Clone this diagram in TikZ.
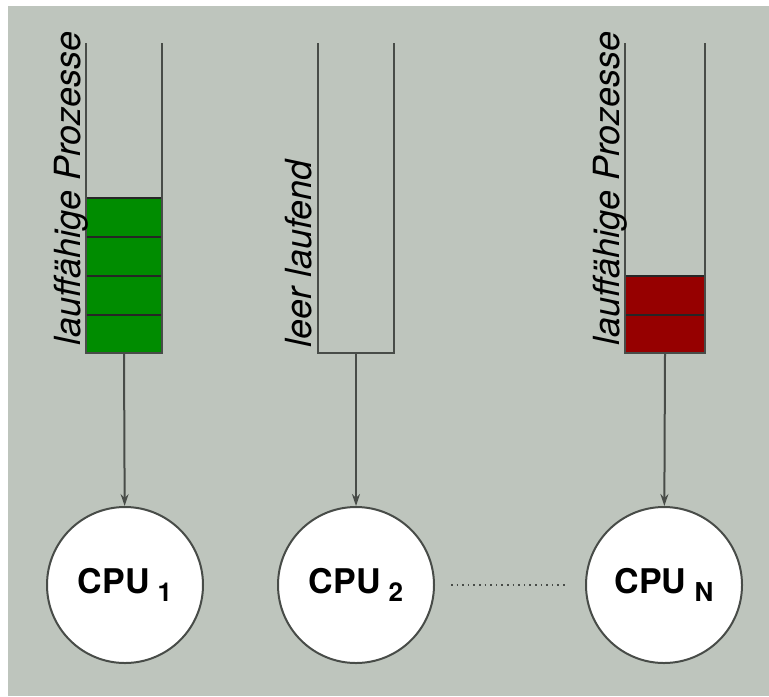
\documentclass[tikz,border=0pt]{standalone}
\usepackage{fontspec}
\setmainfont{TeX Gyre Heros}
\usetikzlibrary{arrows.meta, positioning}

\definecolor{bggrey}{RGB}{190,197,189}
\definecolor{linegrey}{RGB}{72,76,72}
\definecolor{qgreen}{RGB}{0,140,0}
\definecolor{qred}{RGB}{150,0,0}

\tikzset{
  wall/.style={draw=linegrey, line width=1pt},
  cell/.style={draw=black!85, line width=1pt},
  cpu/.style={circle, draw=linegrey, fill=white, line width=1pt, minimum size=78pt,
    inner sep=0pt, font=\bfseries\fontsize{17}{20}\selectfont},
  qlabel/.style={rotate=90, anchor=base west, inner sep=0pt,
    font=\itshape\fontsize{18}{21}\selectfont},
  feed/.style={draw=linegrey, line width=1pt, -{Stealth[length=6pt, width=4pt]}}
}
\newcommand{\cpusub}[1]{\hspace{4pt}\raisebox{-4pt}{\fontsize{13}{15}\selectfont #1}}

\begin{document}
\begin{tikzpicture}[x=0.5pt, y=-0.5pt]
    \useasboundingbox (0,0) rectangle (769,696);
    \fill[bggrey] (8,6) rectangle (769,696);
    % Queue 1 (four runnable processes)
    \fill[qgreen] (86,198) rectangle (162,353);
    \foreach \y in {198,237,276,315} \draw[cell] (86,\y) -- (162,\y);
    \draw[wall] (86,43) -- (86,353) -- (162,353) -- (162,43);
    \node[qlabel] (lab1) at (80,346) {lauffähige Prozesse};
    \coordinate (q1) at (124,353);
    % Queue 2 (empty)
    \draw[wall] (318,43) -- (318,353) -- (394,353) -- (394,43);
    \node[qlabel] (lab2) at (311,348) {leer laufend};
    \coordinate (q2) at (356,353);
    % Queue N (two runnable processes)
    \fill[qred] (625,276) rectangle (705,353);
    \foreach \y in {276,315} \draw[cell] (625,\y) -- (705,\y);
    \draw[wall] (625,43) -- (625,353) -- (705,353) -- (705,43);
    \node[qlabel] (lab3) at (619,346) {lauffähige Prozesse};
    \coordinate (q3) at (665,353);
    % Processors
    \node[cpu] (cpu1) at (125,585) {CPU\cpusub{1}};
    \node[cpu] (cpu2) at (356,585) {CPU\cpusub{2}};
    \node[cpu] (cpuN) at (664,585) {CPU\cpusub{N}};
    \draw[feed] (q1) -- (cpu1);
    \draw[feed] (q2) -- (cpu2);
    \draw[feed] (q3) -- (cpuN);
    \draw[linegrey, dotted, line width=0.8pt, shorten <=8pt, shorten >=10pt] (cpu2.east) -- (cpuN.west);
\end{tikzpicture}
\end{document}
